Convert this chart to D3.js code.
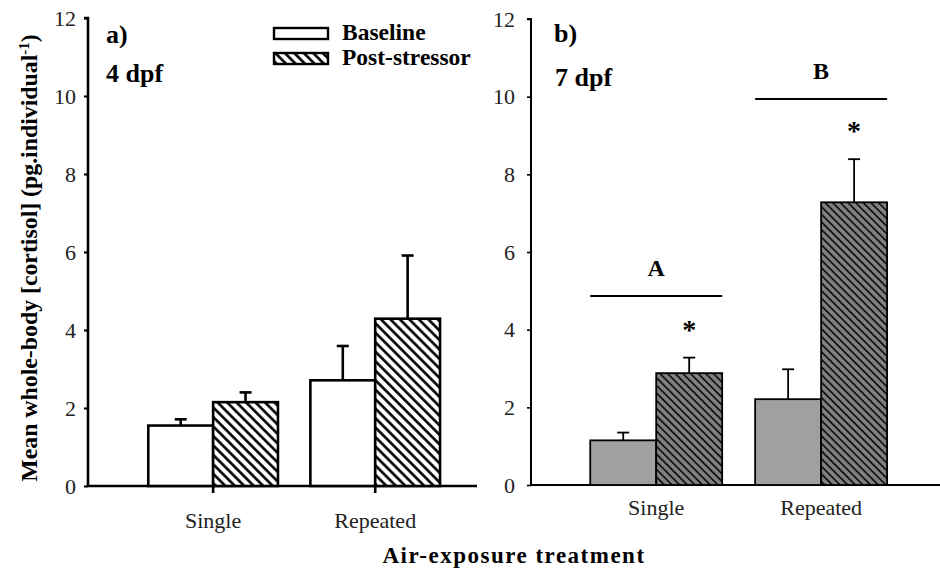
<!DOCTYPE html>
<html lang="en">
<head>
    <style>
        body { margin: 0; background: #fff; }
        svg { display: block; }
        text { font-family: "Liberation Serif", "Times New Roman", serif; }
    </style>
</head>
<body>
    <svg width="940" height="578"></svg>
    <script src="https://cdn.jsdelivr.net/npm/d3@7"></script>
    <script>
        const svg = d3.select("svg");

        /************************************************************************************
        * Data
        ************************************************************************************/
        const categories = ["Single", "Repeated"];
        const series = ["Baseline", "Post-stressor"];
        const yTicks = [0, 2, 4, 6, 8, 10, 12];

        // 4 dpf (panel a)
        const baselineA = [1.55, 2.71];
        const baselineAErr = [0.16, 0.88];
        const postA = [2.15, 4.29];
        const postAErr = [0.25, 1.62];

        // 7 dpf (panel b)
        const baselineB = [1.15, 2.21];
        const baselineBErr = [0.20, 0.77];
        const postB = [2.88, 7.28];
        const postBErr = [0.40, 1.11];

        // significance marks in panel b
        const groupLetters = ["A", "B"];
        const groupLineValues = [4.87, 9.94];
        const starred = [true, true];

        /************************************************************************************
        * Hatch patterns
        ************************************************************************************/
        const defs = svg.append("defs");
        function hatch(id, bg, gap, width) {
            const p = defs.append("pattern").attr("id", id)
                .attr("patternUnits", "userSpaceOnUse")
                .attr("width", gap).attr("height", 20)
                .attr("patternTransform", "rotate(-45)");
            p.append("rect").attr("width", gap).attr("height", 20).attr("fill", bg);
            p.append("line").attr("x1", gap / 2).attr("x2", gap / 2).attr("y1", 0).attr("y2", 20)
                .attr("stroke", "#000").attr("stroke-width", width);
        }
        hatch("hatchA", "#fff", 6.7, 2.6);
        hatch("hatchB", "#808080", 5.4, 1.5);

        /************************************************************************************
        * Panel
        ************************************************************************************/
        function drawPanel(cfg) {
            const y = d3.scaleLinear().domain([0, 12]).range([cfg.y0, cfg.y12]);
            const x = d3.scaleBand().domain(categories)
                .range([cfg.xLeft, cfg.xRight])
                .paddingInner(0).paddingOuter(cfg.padOuter).align(cfg.align);
            const barW = x.bandwidth() * 0.4;
            const cx = c => x(c) + x.bandwidth() / 2;
            const g = svg.append("g");

            // y axis
            const yAxis = d3.axisLeft(y).tickValues(yTicks).tickSize(4).tickPadding(cfg.yLabelPad);
            const ya = g.append("g").attr("transform", `translate(${cfg.xLeft},0)`).call(yAxis);
            ya.select(".domain").attr("stroke-width", cfg.axisW).attr("d", `M-4,${cfg.y12}H0V${cfg.y0}`);
            ya.selectAll(".tick line").attr("stroke-width", cfg.axisW * 0.8);
            ya.selectAll(".tick text").attr("font-size", 22).attr("fill", "#222")
                .style("font-family", "'Liberation Serif', serif");

            // x axis
            const xAxis = d3.axisBottom(x).tickSize(cfg.xTick ? 7 : 0).tickPadding(cfg.xLabelPad);
            const xa = g.append("g").attr("transform", `translate(0,${cfg.y0})`).call(xAxis);
            xa.select(".domain").attr("stroke-width", cfg.axisW).attr("d", `M${cfg.xLeft},0H${cfg.xRight}`);
            xa.selectAll(".tick line").attr("stroke-width", cfg.axisW);
            xa.selectAll(".tick text").attr("font-size", 22).attr("fill", "#222")
                .style("font-family", "'Liberation Serif', serif");

            const rows = categories.map((c, i) => [
                { c, v: cfg.base[i], e: cfg.baseErr[i], x0: cx(c) - barW, fill: cfg.baseFill },
                { c, v: cfg.post[i], e: cfg.postErr[i], x0: cx(c), fill: cfg.postFill }
            ]).flat();

            // error bars (drawn first so bar outline covers base)
            const eb = g.selectAll(".err").data(rows).join("g");
            eb.append("line")
                .attr("x1", d => d.x0 + barW / 2).attr("x2", d => d.x0 + barW / 2)
                .attr("y1", d => y(d.v)).attr("y2", d => y(d.v + d.e))
                .attr("stroke", "#000").attr("stroke-width", cfg.barW);
            eb.append("line")
                .attr("x1", d => d.x0 + barW / 2 - 6).attr("x2", d => d.x0 + barW / 2 + 6)
                .attr("y1", d => y(d.v + d.e)).attr("y2", d => y(d.v + d.e))
                .attr("stroke", "#000").attr("stroke-width", cfg.barW);

            g.selectAll(".bar").data(rows).join("rect")
                .attr("x", d => d.x0).attr("width", barW)
                .attr("y", d => y(d.v)).attr("height", d => y(0) - y(d.v))
                .attr("fill", d => d.fill)
                .attr("stroke", "#000").attr("stroke-width", cfg.barW);

            return { g, x, y, cx, barW };
        }

        const panelA = drawPanel({
            xLeft: 88, xRight: 477, y0: 486, y12: 18, padOuter: 0.2, align: 0.68,
            axisW: 2.6, barW: 2.6, xTick: true, xLabelPad: 19, yLabelPad: 8,
            base: baselineA, baseErr: baselineAErr, post: postA, postErr: postAErr,
            baseFill: "#fff", postFill: "url(#hatchA)"
        });

        const panelB = drawPanel({
            xLeft: 531, xRight: 940, y0: 485, y12: 19, padOuter: 0.24, align: 0.54,
            axisW: 2, barW: 1.8, xTick: false, xLabelPad: 14, yLabelPad: 12,
            base: baselineB, baseErr: baselineBErr, post: postB, postErr: postBErr,
            baseFill: "#a0a0a0", postFill: "url(#hatchB)"
        });

        /************************************************************************************
        * Significance marks (panel b)
        ************************************************************************************/
        categories.forEach((c, i) => {
            const { g, y, cx, barW } = panelB;
            const x0 = cx(c) - barW, x1 = cx(c) + barW;
            g.append("line").attr("x1", x0).attr("x2", x1)
                .attr("y1", y(groupLineValues[i])).attr("y2", y(groupLineValues[i]))
                .attr("stroke", "#000").attr("stroke-width", 2);
            g.append("text").attr("x", cx(c)).attr("y", y(groupLineValues[i]) - 20)
                .attr("text-anchor", "middle").attr("font-size", 24).attr("font-weight", "bold")
                .text(groupLetters[i]);
            if (starred[i]) {
                g.append("text").attr("x", cx(c) + barW / 2)
                    .attr("y", y(postB[i] + postBErr[i] + 0.85) + 14)
                    .attr("text-anchor", "middle").attr("font-size", 28).attr("font-weight", "bold")
                    .text("*");
            }
        });

        /************************************************************************************
        * Labels
        ************************************************************************************/
        const bold = (x, yy, t, size) => svg.append("text").attr("x", x).attr("y", yy)
            .attr("font-size", size).attr("font-weight", "bold").text(t);
        bold(106, 43, "a)", 26);
        bold(106, 82, "4 dpf", 26);
        bold(554, 42, "b)", 26);
        bold(555, 86, "7 dpf", 26);

        // legend
        const legend = svg.append("g").attr("transform", "translate(274,28)");
        const legendFills = ["#fff", "url(#hatchA)"];
        series.forEach((s, i) => {
            legend.append("rect").attr("x", 0).attr("y", i * 25).attr("width", 54).attr("height", 11)
                .attr("fill", legendFills[i]).attr("stroke", "#000").attr("stroke-width", 2.4);
            legend.append("text").attr("x", 68).attr("y", i * 25 + 12)
                .attr("font-size", 23.5).attr("font-weight", "bold").text(s);
        });

        // axis titles
        const yTitle = svg.append("text")
            .attr("transform", "translate(37,258) rotate(-90)")
            .attr("text-anchor", "middle").attr("font-size", 23.8).attr("font-weight", "bold");
        yTitle.append("tspan").text("Mean whole-body [cortisol] (pg.individual");
        yTitle.append("tspan").attr("dy", -8).attr("font-size", 15).text("-1");
        yTitle.append("tspan").attr("dy", 8).text(")");

        svg.append("text").attr("x", 514).attr("y", 563)
            .attr("text-anchor", "middle").attr("font-size", 23).attr("font-weight", "bold")
            .attr("letter-spacing", 1.5)
            .text("Air-exposure treatment");
    </script>
</body>
</html>
